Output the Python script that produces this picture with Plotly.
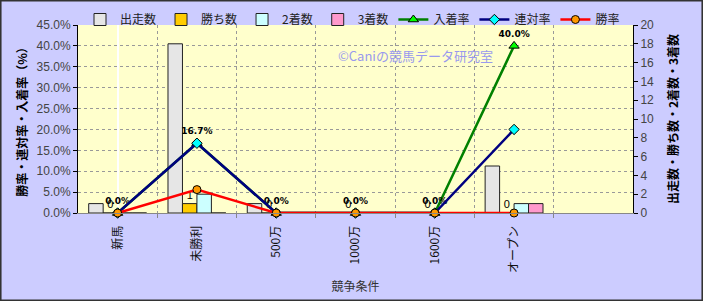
import plotly.graph_objects as go

categories = ["新馬", "未勝利", "500万", "1000万", "1600万", "オープン"]
runs = [1, 18, 1, 0, 0, 5]
wins = [0, 1, 0, 0, 0, 0]
seconds = [0, 2, 0, 0, 0, 1]
thirds = [0, 0, 0, 0, 0, 1]
place_rate = [0.0, 0.167, 0.0, 0.0, 0.0, 0.40]
rentai_rate = [0.0, 0.167, 0.0, 0.0, 0.0, 0.20]
win_rate = [0.0, 0.056, 0.0, 0.0, 0.0, 0.0]

xs = list(range(len(categories)))
FONT = "Liberation Sans, Noto Sans CJK JP, sans-serif"
JP = "Noto Sans CJK JP, sans-serif"

fig = go.Figure()
bar_specs = [
    ("出走数", runs, "#E6E6E6", None),
    ("勝ち数", wins, "#FFCC00", wins),
    ("2着数", seconds, "#CCFFFF", None),
    ("3着数", thirds, "#FF99CC", None),
]
for name, vals, col, txt in bar_specs:
    fig.add_trace(go.Bar(
        x=xs, y=vals, name=name, yaxis="y",
        marker=dict(color=col, line=dict(color="#222222", width=1)),
        text=[str(v) for v in txt] if txt is not None else None,
        textposition="outside" if txt is not None else None,
        textfont=dict(size=11, color="#000000", family=FONT),
        cliponaxis=False,
    ))

fig.add_trace(go.Scatter(
    x=xs, y=place_rate, name="入着率", yaxis="y2", mode="lines+markers+text",
    line=dict(color="#008000", width=2.5),
    marker=dict(symbol="triangle-up", size=9, color="#00FF00", line=dict(color="#000", width=1)),
    text=[f"{v*100:.1f}%" for v in place_rate], textposition="top center",
    textfont=dict(size=9, color="#000", family="DejaVu Sans", weight="bold"),
    cliponaxis=False,
))
fig.add_trace(go.Scatter(
    x=xs, y=rentai_rate, name="連対率", yaxis="y2", mode="lines+markers",
    line=dict(color="#000080", width=2.5),
    marker=dict(symbol="diamond", size=8, color="#00FFFF", line=dict(color="#000", width=1)),
    cliponaxis=False,
))
fig.add_trace(go.Scatter(
    x=xs, y=win_rate, name="勝率", yaxis="y2", mode="lines+markers",
    line=dict(color="#FF0000", width=2.5),
    marker=dict(symbol="circle", size=8, color="#FF9900", line=dict(color="#000", width=1)),
    cliponaxis=False,
))

W, H = 703, 301
L, R, T, B = 78, 70, 25, 88
pw, ph = W - L - R, H - T - B

fig.update_layout(
    width=W, height=H,
    margin=dict(l=L, r=R, t=T, b=B, autoexpand=False),
    paper_bgcolor="#CCCCFF", plot_bgcolor="#FFFFCC",
    barmode="group", bargap=0.27, bargroupgap=0,
    font=dict(family=FONT, size=12, color="#333333"),
    showlegend=True,
    legend=dict(orientation="h", x=(80) / W, xref="container", xanchor="left",
                y=1 - 5 / H, yref="container", yanchor="top",
                bgcolor="rgba(0,0,0,0)", font=dict(size=12, family=JP, color="#222"),
                tracegroupgap=0),
    xaxis=dict(range=[-0.5, 6.5], tickmode="array", tickvals=xs, ticktext=categories,
               tickangle=-90, showgrid=False, showline=True, linecolor="#888888",
               ticks="outside", ticklen=7, tickcolor="rgba(0,0,0,0)",
               tickfont=dict(size=12, family=JP, color="#111"), automargin=False,
               title=dict(text="競争条件", font=dict(size=12, family=JP, color="#333"), standoff=10),
               zeroline=False),
    xaxis2=dict(range=[-0.5, 6.5], overlaying="x", tickmode="array",
                tickvals=[i + 0.5 for i in range(6)], showticklabels=False,
                showgrid=True, gridcolor="#999999", griddash="dot", gridwidth=1,
                ticks="outside", ticklen=4, tickcolor="#888888", automargin=False),
    yaxis=dict(side="right", range=[0, 20], dtick=2, showgrid=False, showline=True,
               linecolor="#000000", ticks="outside", ticklen=4, tickcolor="#000",
               tickfont=dict(size=12, color="#444"), zeroline=False, automargin=False,
               title=dict(text="出走数・勝ち数・2着数・3着数", font=dict(size=12, family=JP, color="#000", weight="bold"), standoff=16)),
    yaxis2=dict(side="left", overlaying="y", range=[0, 0.45], dtick=0.05, tickformat=".1%",
                showgrid=True, gridcolor="#999999", griddash="dot", gridwidth=1,
                showline=True, linecolor="#000000", ticks="outside", ticklen=4, tickcolor="#000",
                tickfont=dict(size=12, color="#444"), zeroline=False, automargin=False,
                title=dict(text="勝率・連対率・入着率（%）", font=dict(size=12, family=JP, color="#000", weight="bold"), standoff=6)),
)

# dummy trace to activate xaxis2 grid
fig.add_trace(go.Scatter(x=[None], y=[None], xaxis="x2", yaxis="y", showlegend=False, hoverinfo="skip"))

fig.add_annotation(text="©Caniの競馬データ研究室", xref="paper", yref="paper",
                   x=(495 - L) / pw, y=1 - (44 - T) / ph, showarrow=False,
                   font=dict(size=13, family=JP, color="#9999EE"))

fig.add_shape(type="rect", xref="paper", yref="paper",
              x0=-L / pw + 0.001, x1=1 + R / pw - 0.001, y0=-B / ph + 0.003, y1=1 + T / ph - 0.003,
              line=dict(color="#333333", width=2), layer="below")

fig.write_html("out.html")
